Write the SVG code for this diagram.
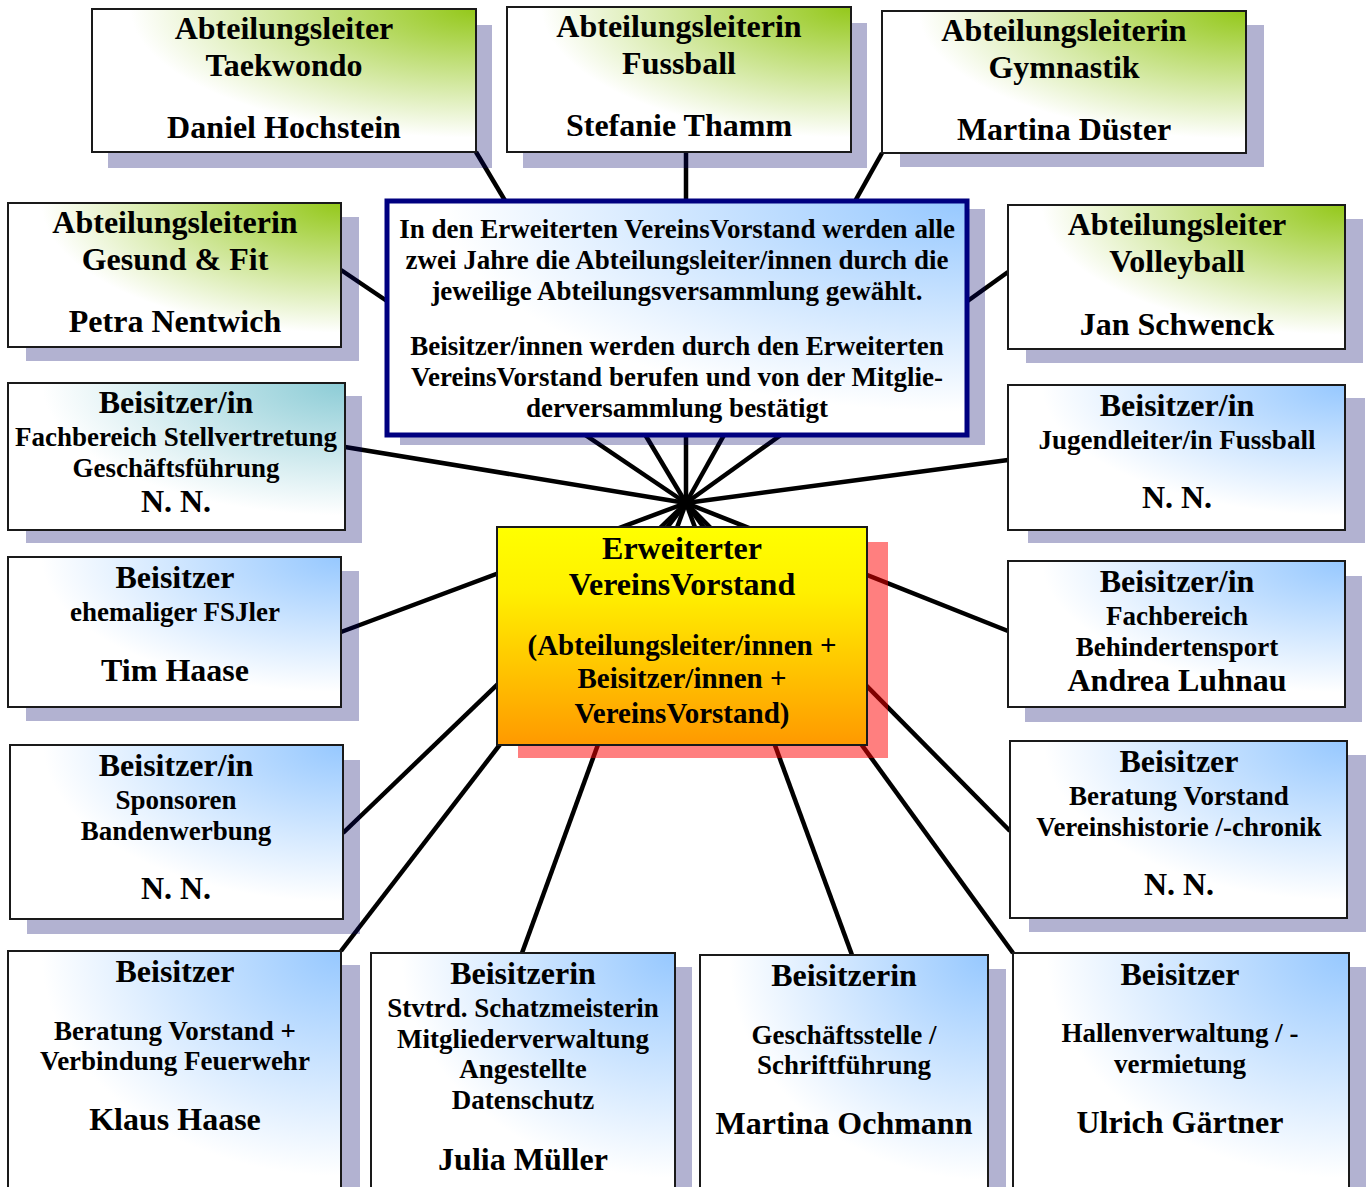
<svg xmlns="http://www.w3.org/2000/svg" width="1371" height="1187" viewBox="0 0 1371 1187">
<defs>
<radialGradient id="gGreen" cx="1" cy="0" r="1" fx="1" fy="0"><stop offset="0" stop-color="#94C81A"/><stop offset="0.9" stop-color="#FFFFFF"/></radialGradient>
<radialGradient id="gBlue" cx="1" cy="0" r="1" fx="1" fy="0"><stop offset="0" stop-color="#96C8FF"/><stop offset="0.9" stop-color="#FFFFFF"/></radialGradient>
<radialGradient id="gTeal" cx="1" cy="0" r="1" fx="1" fy="0"><stop offset="0" stop-color="#8CCCD6"/><stop offset="0.9" stop-color="#FFFFFF"/></radialGradient>
<linearGradient id="gYellow" x1="0" y1="0" x2="0" y2="1"><stop offset="0" stop-color="#FFFF00"/><stop offset="0.3" stop-color="#FFF000"/><stop offset="1" stop-color="#FF9900"/></linearGradient>
</defs>
<style>
.sh{fill:#000066;fill-opacity:0.3}
.shr{fill:#FF0000;fill-opacity:0.5}
.box{stroke:#1a1a1a;stroke-width:2}
.g{fill:url(#gGreen)}
.bl{fill:url(#gBlue)}
.te{fill:url(#gTeal)}
.info{fill:url(#gBlue);stroke:#000080;stroke-width:5}
.core{fill:url(#gYellow);stroke:#1a1a1a;stroke-width:2}
.c line{stroke:#000;stroke-width:4.5}
text{font-family:"Liberation Serif","Times New Roman",serif;font-weight:bold;fill:#000;text-anchor:middle}
.L{font-size:32px}
.M{font-size:29px}
.S{font-size:27px}
</style>
<rect width="1371" height="1187" fill="#fff"/>
<g class="c" id="connectors">
<line x1="686" y1="503" x2="476" y2="152"/>
<line x1="686" y1="503" x2="686" y2="152"/>
<line x1="686" y1="503" x2="882" y2="153"/>
<line x1="686" y1="503" x2="341" y2="270"/>
<line x1="686" y1="503" x2="1008" y2="272"/>
<line x1="686" y1="503" x2="345" y2="447"/>
<line x1="686" y1="503" x2="1008" y2="460"/>
<line x1="686" y1="503" x2="341" y2="632"/>
<line x1="686" y1="503" x2="1008" y2="631"/>
<line x1="686" y1="503" x2="343" y2="833"/>
<line x1="686" y1="503" x2="1010" y2="831"/>
<line x1="686" y1="503" x2="341" y2="951"/>
<line x1="686" y1="503" x2="522" y2="953"/>
<line x1="686" y1="503" x2="852" y2="955"/>
<line x1="686" y1="503" x2="1013" y2="953"/>
</g>
<g id="n-taekwondo"><rect class="sh" x="108" y="25" width="384" height="143"/><rect class="box g" x="92" y="9" width="384" height="143"/>
<text class="L" x="284" y="39">Abteilungsleiter</text><text class="L" x="284" y="76">Taekwondo</text><text class="L" x="284" y="138">Daniel Hochstein</text></g>
<g id="n-fussball"><rect class="sh" x="523" y="23" width="344" height="145"/><rect class="box g" x="507" y="7" width="344" height="145"/>
<text class="L" x="679" y="37">Abteilungsleiterin</text><text class="L" x="679" y="74">Fussball</text><text class="L" x="679" y="136">Stefanie Thamm</text></g>
<g id="n-gymnastik"><rect class="sh" x="900" y="25" width="364" height="142"/><rect class="box g" x="882" y="11" width="364" height="142"/>
<text class="L" x="1064" y="41">Abteilungsleiterin</text><text class="L" x="1064" y="78">Gymnastik</text><text class="L" x="1064" y="140">Martina Düster</text></g>
<g id="n-gesund"><rect class="sh" x="26" y="217" width="333" height="144"/><rect class="box g" x="8" y="203" width="333" height="144"/>
<text class="L" x="175" y="233">Abteilungsleiterin</text><text class="L" x="175" y="270">Gesund &amp; Fit</text><text class="L" x="175" y="332">Petra Nentwich</text></g>
<g id="n-info"><rect class="sh" x="400" y="209" width="585" height="236"/><rect class="info" x="387" y="201" width="580" height="234"/>
<text class="S" x="677" y="238">In den Erweiterten VereinsVorstand werden alle</text>
<text class="S" x="677" y="269">zwei Jahre die Abteilungsleiter/innen durch die</text>
<text class="S" x="677" y="300">jeweilige Abteilungsversammlung gewählt.</text>
<text class="S" x="677" y="355">Beisitzer/innen werden durch den Erweiterten</text>
<text class="S" x="677" y="386">VereinsVorstand berufen und von der Mitglie-</text>
<text class="S" x="677" y="417">derversammlung bestätigt</text></g>
<g id="n-volleyball"><rect class="sh" x="1026" y="219" width="337" height="144"/><rect class="box g" x="1008" y="205" width="337" height="144"/>
<text class="L" x="1177" y="235">Abteilungsleiter</text><text class="L" x="1177" y="272">Volleyball</text><text class="L" x="1177" y="335">Jan Schwenck</text></g>
<g id="n-stellv"><rect class="sh" x="26" y="396" width="336" height="147"/><rect class="box te" x="8" y="383" width="337" height="147"/>
<text class="L" x="176" y="413">Beisitzer/in</text><text class="S" x="176" y="446">Fachbereich Stellvertretung</text><text class="S" x="176" y="477">Geschäftsführung</text><text class="L" x="176" y="512">N. N.</text></g>
<g id="n-jugend"><rect class="sh" x="1028" y="398" width="337" height="145"/><rect class="box bl" x="1008" y="385" width="337" height="145"/>
<text class="L" x="1177" y="416">Beisitzer/in</text><text class="S" x="1177" y="449">Jugendleiter/in Fussball</text><text class="L" x="1177" y="508">N. N.</text></g>
<g id="n-core"><rect class="shr" x="518" y="542" width="370" height="216"/><rect class="core" x="497" y="527" width="370" height="218"/>
<text class="L" x="682" y="559">Erweiterter</text><text class="L" x="682" y="595">VereinsVorstand</text>
<text class="M" x="682" y="655">(Abteilungsleiter/innen +</text><text class="M" x="682" y="688">Beisitzer/innen +</text><text class="M" x="682" y="723">VereinsVorstand)</text></g>
<g id="n-tim"><rect class="sh" x="26" y="571" width="333" height="150"/><rect class="box bl" x="8" y="557" width="333" height="150"/>
<text class="L" x="175" y="588">Beisitzer</text><text class="S" x="175" y="621">ehemaliger FSJler</text><text class="L" x="175" y="681">Tim Haase</text></g>
<g id="n-andrea"><rect class="sh" x="1025" y="576" width="337" height="146"/><rect class="box bl" x="1008" y="561" width="337" height="146"/>
<text class="L" x="1177" y="592">Beisitzer/in</text><text class="S" x="1177" y="625">Fachbereich</text><text class="S" x="1177" y="656">Behindertensport</text><text class="L" x="1177" y="691">Andrea Luhnau</text></g>
<g id="n-sponsoren"><rect class="sh" x="27" y="760" width="333" height="174"/><rect class="box bl" x="10" y="745" width="333" height="174"/>
<text class="L" x="176" y="776">Beisitzer/in</text><text class="S" x="176" y="809">Sponsoren</text><text class="S" x="176" y="840">Bandenwerbung</text><text class="L" x="176" y="899">N. N.</text></g>
<g id="n-historie"><rect class="sh" x="1029" y="755" width="337" height="177"/><rect class="box bl" x="1010" y="741" width="337" height="177"/>
<text class="L" x="1179" y="772">Beisitzer</text><text class="S" x="1179" y="805">Beratung Vorstand</text><text class="S" x="1179" y="836">Vereinshistorie /-chronik</text><text class="L" x="1179" y="895">N. N.</text></g>
<g id="n-klaus"><rect class="sh" x="27" y="965" width="333" height="240"/><rect class="box bl" x="8" y="951" width="333" height="250"/>
<text class="L" x="175" y="982">Beisitzer</text><text class="S" x="175" y="1040">Beratung Vorstand +</text><text class="S" x="175" y="1070">Verbindung Feuerwehr</text><text class="L" x="175" y="1130">Klaus Haase</text></g>
<g id="n-julia"><rect class="sh" x="388" y="967" width="304" height="240"/><rect class="box bl" x="371" y="953" width="304" height="250"/>
<text class="L" x="523" y="984">Beisitzerin</text><text class="S" x="523" y="1017">Stvtrd. Schatzmeisterin</text><text class="S" x="523" y="1048">Mitgliederverwaltung</text><text class="S" x="523" y="1078">Angestellte</text><text class="S" x="523" y="1109">Datenschutz</text><text class="L" x="523" y="1170">Julia Müller</text></g>
<g id="n-ochmann"><rect class="sh" x="718" y="969" width="288" height="240"/><rect class="box bl" x="700" y="955" width="288" height="250"/>
<text class="L" x="844" y="986">Beisitzerin</text><text class="S" x="844" y="1044">Geschäftsstelle /</text><text class="S" x="844" y="1074">Schriftführung</text><text class="L" x="844" y="1134">Martina Ochmann</text></g>
<g id="n-ulrich"><rect class="sh" x="1030" y="967" width="336" height="240"/><rect class="box bl" x="1013" y="953" width="336" height="250"/>
<text class="L" x="1180" y="985">Beisitzer</text><text class="S" x="1180" y="1042">Hallenverwaltung / -</text><text class="S" x="1180" y="1073">vermietung</text><text class="L" x="1180" y="1133">Ulrich Gärtner</text></g>
</svg>
